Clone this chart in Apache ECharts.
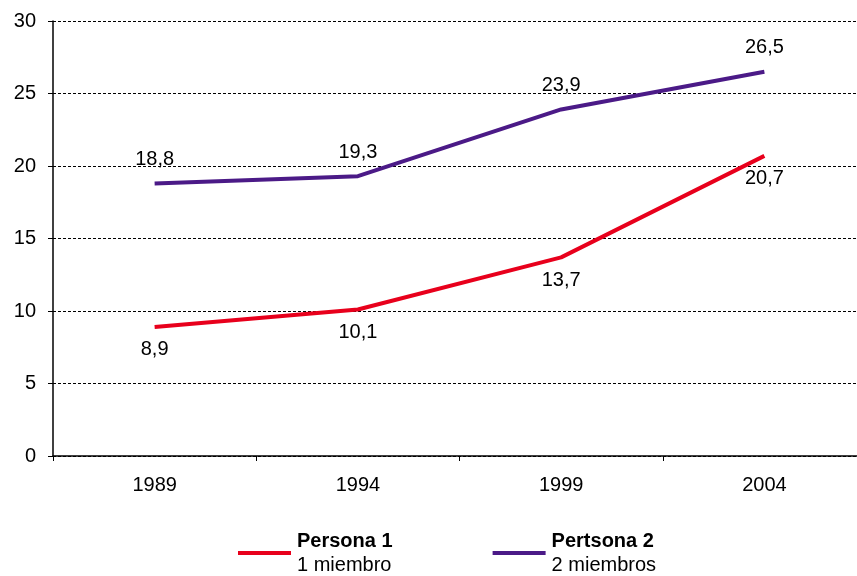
<!DOCTYPE html>
<html>
<head>
<meta charset="utf-8">
<script src="https://cdn.jsdelivr.net/npm/echarts@6/dist/echarts.min.js"></script>
<style>
  html, body { margin: 0; padding: 0; background: #fff; overflow: hidden; }
  #chart { width: 866px; height: 576px; }
</style>
</head>
<body>
<div id="chart"></div>
<script>
var years = ['1989', '1994', '1999', '2004'];
var persona1 = [8.9, 10.1, 13.7, 20.7];
var persona2 = [18.8, 19.3, 23.9, 26.5];
var yTicks = [0, 5, 10, 15, 20, 25, 30];

// etiqueta con coma decimal
function coma(p) {
  return p.value.toFixed(1).replace('.', ',');
}

var myChart = echarts.init(document.getElementById('chart'));

var option = {
  animation: false,
  textStyle: { fontFamily: 'Liberation Sans, Arial, sans-serif' },
  grid: { left: 53, top: 21, right: 0, height: 435 },
  xAxis: {
    type: 'category',
    data: years,
    boundaryGap: true,
    axisLine: { lineStyle: { color: '#000', width: 1.5 } },
    axisTick: { show: true, length: 5, inside: false, lineStyle: { color: '#000' } },
    axisLabel: { color: '#000', fontSize: 20, margin: 19 },
    splitLine: { show: false }
  },
  yAxis: {
    type: 'value',
    min: yTicks[0],
    max: yTicks[yTicks.length - 1],
    interval: 5,
    axisLine: { show: true, lineStyle: { color: '#000', width: 1.5 } },
    axisTick: { show: true, length: 5, lineStyle: { color: '#000' } },
    axisLabel: { color: '#000', fontSize: 20, margin: 17 },
    splitLine: { show: true, lineStyle: { color: '#000', type: [3, 2], width: 1 } }
  },
  legend: {
    left: 238,
    top: 531,
    padding: 0,
    itemWidth: 53,
    itemHeight: 4,
    itemGap: 100,
    icon: 'rect',
    data: ['Persona 1', 'Pertsona 2'],
    formatter: function (name) {
      var sub = name === 'Persona 1' ? '1 miembro' : '2 miembros';
      return '{b|' + name + '}\n{n|' + sub + '}';
    },
    textStyle: {
      padding: [0, 0, 0, 1],
      rich: {
        b: { fontSize: 20, fontWeight: 'bold', color: '#000', lineHeight: 24 },
        n: { fontSize: 20, color: '#000', lineHeight: 24 }
      }
    }
  },
  series: [
    {
      name: 'Persona 1',
      type: 'line',
      data: persona1,
      symbol: 'circle',
      symbolSize: 0,
      lineStyle: { color: '#E8001C', width: 4 },
      itemStyle: { color: '#E8001C' },
      label: { show: true, position: 'bottom', distance: 13, color: '#000', fontSize: 20, formatter: coma }
    },
    {
      name: 'Pertsona 2',
      type: 'line',
      data: persona2,
      symbol: 'circle',
      symbolSize: 0,
      lineStyle: { color: '#4B1A87', width: 4 },
      itemStyle: { color: '#4B1A87' },
      label: { show: true, position: 'top', distance: 14, color: '#000', fontSize: 20, formatter: coma }
    }
  ]
};

myChart.setOption(option);
</script>
</body>
</html>
